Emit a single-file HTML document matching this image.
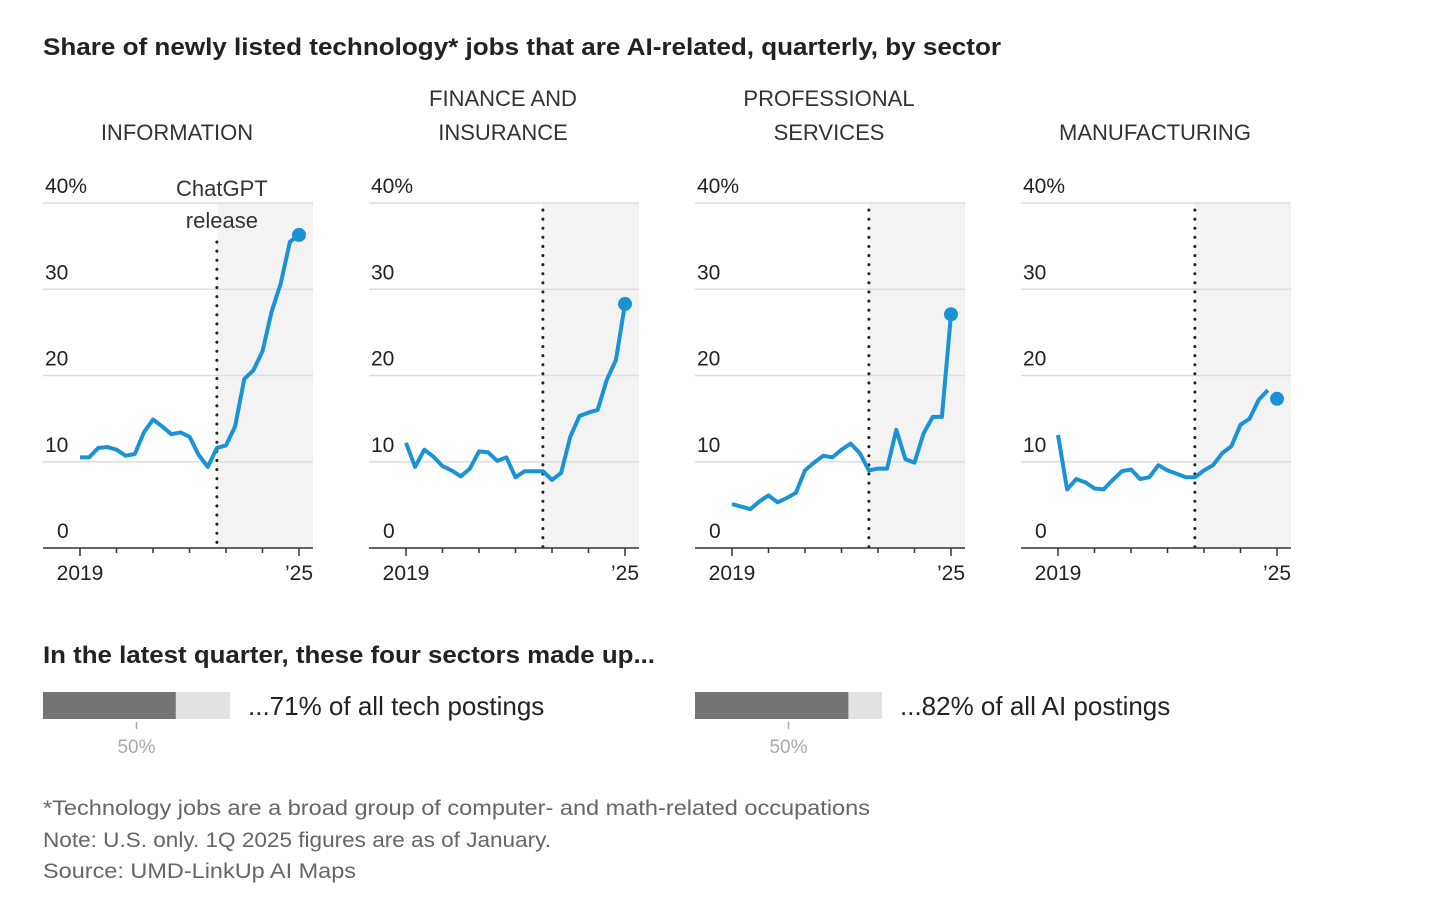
<!DOCTYPE html>
<html><head><meta charset="utf-8">
<style>
html,body{margin:0;padding:0;background:#fff;}
svg{display:block;font-family:"Liberation Sans",sans-serif;}
</style></head>
<body>
<svg id="chart" width="1456" height="917" viewBox="0 0 1456 917" xmlns="http://www.w3.org/2000/svg">
<text x="43" y="55" font-size="24" font-weight="bold" fill="#222" textLength="958" lengthAdjust="spacingAndGlyphs">Share of newly listed technology* jobs that are AI-related, quarterly, by sector</text>
<g id="panels"></g>
<text x="43" y="663" font-size="24" font-weight="bold" fill="#222" textLength="612" lengthAdjust="spacingAndGlyphs">In the latest quarter, these four sectors made up...</text>
<g id="bars"></g>
<text x="43" y="815" font-size="21" fill="#666" textLength="827" lengthAdjust="spacingAndGlyphs">*Technology jobs are a broad group of computer- and math-related occupations</text>
<text x="43" y="847" font-size="21" fill="#666" textLength="508" lengthAdjust="spacingAndGlyphs">Note: U.S. only. 1Q 2025 figures are as of January.</text>
<text x="43" y="878" font-size="21" fill="#666" textLength="313" lengthAdjust="spacingAndGlyphs">Source: UMD-LinkUp AI Maps</text>
</svg>
<script>
const sectors = ["INFORMATION", "FINANCE AND|INSURANCE", "PROFESSIONAL|SERVICES", "MANUFACTURING"];
const info = [10.5,10.5,11.6,11.7,11.4,10.7,10.9,13.4,14.9,14.1,13.2,13.4,12.9,10.8,9.4,11.6,11.9,14.1,19.6,20.6,22.8,27.4,30.7,35.5];
const finance = [12.2,9.4,11.4,10.6,9.5,9.0,8.3,9.2,11.2,11.1,10.1,10.5,8.2,8.9,8.9,8.9,7.9,8.7,12.9,15.3,15.7,16.0,19.5,21.8];
const prof = [5.1,4.8,4.5,5.4,6.1,5.3,5.8,6.4,9.0,9.9,10.7,10.5,11.4,12.1,11.0,9.0,9.2,9.2,13.7,10.3,9.9,13.3,15.2,15.2];
const manuf = [13.1,6.8,8.0,7.6,6.9,6.8,7.9,8.9,9.1,8.0,8.2,9.6,9.0,8.6,8.2,8.2,9.0,9.6,11.0,11.8,14.3,15.0,17.2,18.3];
const latest = [36.3, 28.3, 27.1, 17.3];
const connectLatest = [true, true, true, false];
const yTicks = [0, 10, 20, 30, 40];
const yTickLabels = ["0", "10", "20", "30", "40%"];
const releaseQuarter = 15;
const shareLabels = ["...71% of all tech postings", "...82% of all AI postings"];
const shareValues = [71, 82];

const series = [info, finance, prof, manuf];
const NS = "http://www.w3.org/2000/svg";
function mk(tag, attrs, parent) {
  const e = document.createElementNS(NS, tag);
  for (const k in attrs) e.setAttribute(k, attrs[k]);
  parent.appendChild(e);
  return e;
}
const panels = document.getElementById("panels");
const y0 = 548, yTop = 203;
const yScale = v => y0 - (v / 40) * (y0 - yTop);
const qStep = 219 / 24;

sectors.forEach((name, p) => {
  const off = p * 326;
  const left = 43 + off, right = 313 + off, x2019 = 80 + off;
  const xScale = q => x2019 + q * qStep;
  const g = mk("g", {}, panels);
  
  
  const lines = name.split("|");
  lines.forEach((ln, i) => {
    const t = mk("text", {x: (left + right) / 2 - 1, y: 140 - (lines.length - 1 - i) * 34, "text-anchor": "middle", "font-size": 22, fill: "#333"}, g);
    
    
    t.textContent = ln;
  });
  const sh = mk("rect", {x: xScale(releaseQuarter), y: yTop, width: right - xScale(releaseQuarter), height: y0 - yTop, fill: "#f3f3f3"}, g);
  
  
  yTicks.forEach((v, i) => {
    if (v > 0) {
      const gl = mk("line", {x1: left, x2: right, y1: yScale(v), y2: yScale(v), stroke: "#ddd", "stroke-width": 1.5}, g);
      
      
    }
    const tl = mk("text", {x: left + 2, y: yScale(v) - 10, "font-size": 21, fill: "#222"}, g);
    
    
    if (v === 0) tl.setAttribute("x", left + 14);
    tl.textContent = yTickLabels[i];
  });
  const rl = mk("line", {x1: xScale(releaseQuarter), x2: xScale(releaseQuarter), y1: p === 0 ? 242 : 210, y2: y0, stroke: "#222", "stroke-width": 3, "stroke-dasharray": "0.1 9", "stroke-linecap": "round"}, g);
  
  
  if (p === 0) {
    ["ChatGPT", "release"].forEach((s, i) => {
      const t = mk("text", {x: xScale(releaseQuarter) + 5, y: 196 + i * 32, "text-anchor": "middle", "font-size": 22, fill: "#333"}, g);
      
      
      t.textContent = s;
    });
  }
  const ax = mk("line", {x1: left, x2: right, y1: y0, y2: y0, stroke: "#333", "stroke-width": 1.5}, g);
  
  
  for (let yr = 0; yr <= 6; yr++) {
    const tk = mk("line", {x1: xScale(yr * 4), x2: xScale(yr * 4), y1: y0, y2: y0 + (yr === 0 || yr === 6 ? 8 : 5), stroke: "#333", "stroke-width": 1.5}, g);
    
    
  }
  const xl1 = mk("text", {x: xScale(0), y: 580, "text-anchor": "middle", "font-size": 21, fill: "#222"}, g);
  
  
  xl1.textContent = "2019";
  const xl2 = mk("text", {x: xScale(24), y: 580, "text-anchor": "middle", "font-size": 21, fill: "#222"}, g);
  
  
  xl2.textContent = "\u201925";
  const pts = series[p].slice();
  if (connectLatest[p]) pts.push(latest[p]);
  const d = pts.map((v, i) => (i ? "L" : "M") + xScale(i).toFixed(1) + "," + yScale(v).toFixed(1)).join(" ");
  const path = mk("path", {d: d, fill: "none", stroke: "#1a93d6", "stroke-width": 4, "stroke-linejoin": "round"}, g);
  
  
  const dot = mk("circle", {cx: xScale(24), cy: yScale(latest[p]), r: 7, fill: "#1a93d6"}, g);
  
  
});

const bars = document.getElementById("bars");
shareValues.forEach((v, i) => {
  const x = 43 + i * 652, w = 187;
  const bg = mk("rect", {x: x, y: 692, width: w, height: 27, fill: "#e1e2e3"}, bars);
  
  
  const fg = mk("rect", {x: x, y: 692, width: w * v / 100, height: 27, fill: "#747474"}, bars);
  
  
  const tk = mk("line", {x1: x + w / 2, x2: x + w / 2, y1: 722, y2: 729, stroke: "#aaa", "stroke-width": 1.5}, bars);
  
  
  const tl = mk("text", {x: x + w / 2, y: 753, "text-anchor": "middle", "font-size": 19, fill: "#aaa"}, bars);
  
  
  tl.textContent = "50%";
  const lb = mk("text", {x: x + w + 18, y: 715, "font-size": 26, fill: "#222"}, bars);
  
  
  lb.textContent = shareLabels[i];
});
</script>
</body></html>
